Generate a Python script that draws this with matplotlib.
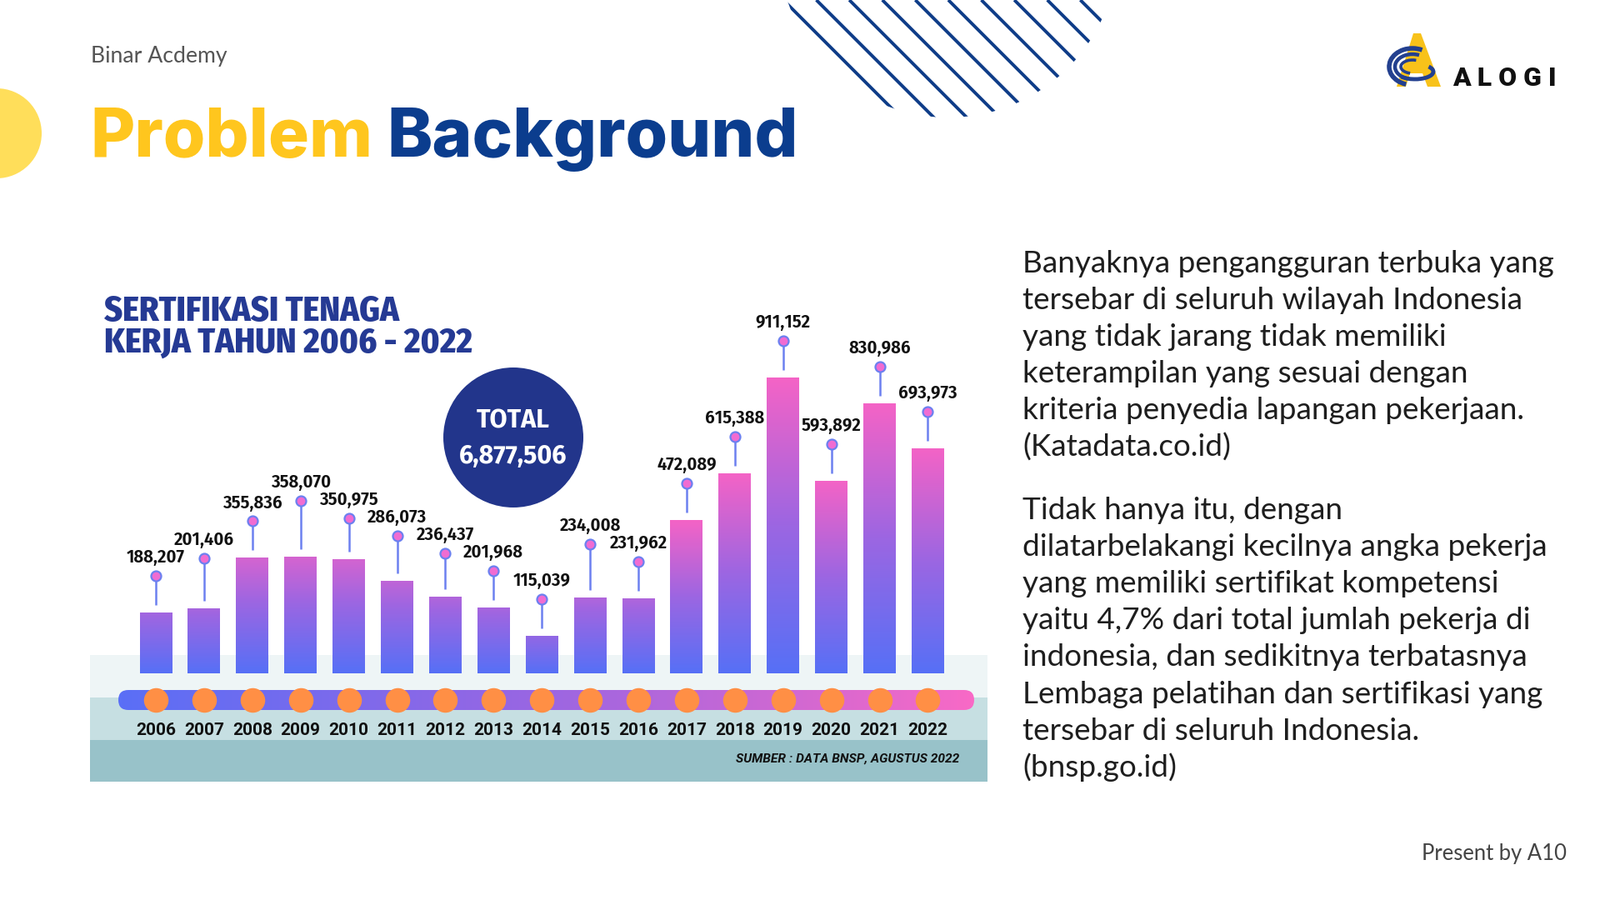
import numpy as np
import matplotlib
matplotlib.use("Agg")
import matplotlib.pyplot as plt
from matplotlib import font_manager as fm
from matplotlib.colors import LinearSegmentedColormap
from matplotlib.patches import Circle, Rectangle, FancyBboxPatch, Polygon, Arc
import matplotlib.transforms as mtransforms

# ---------------- data ----------------
years = ["2006", "2007", "2008", "2009", "2010", "2011", "2012", "2013", "2014",
         "2015", "2016", "2017", "2018", "2019", "2020", "2021", "2022"]
certifications = [188207, 201406, 355836, 358070, 350975, 286073, 236437, 201968,
                  115039, 234008, 231962, 472089, 615388, 911152, 593892, 830986, 693973]
total_text = "6,877,506"
chart_title = ["SERTIFIKASI TENAGA", "KERJA TAHUN 2006 - 2022"]
source_text = "SUMBER : DATA BNSP, AGUSTUS 2022"
para1 = ["Banyaknya pengangguran terbuka yang",
         "tersebar di seluruh wilayah Indonesia",
         "yang tidak jarang tidak memiliki",
         "keterampilan yang sesuai dengan",
         "kriteria penyedia lapangan pekerjaan.",
         "(Katadata.co.id)"]
para2 = ["Tidak hanya itu, dengan",
         "dilatarbelakangi kecilnya angka pekerja",
         "yang memiliki sertifikat kompetensi",
         "yaitu 4,7% dari total jumlah pekerja di",
         "indonesia, dan sedikitnya terbatasnya",
         "Lembaga pelatihan dan sertifikasi yang",
         "tersebar di seluruh Indonesia.",
         "(bnsp.go.id)"]


def pick(*names):
    for n in names:
        try:
            fm.findfont(fm.FontProperties(family=n), fallback_to_default=False)
            return n
        except Exception:
            pass
    return "DejaVu Sans"


BODY = pick("Lato", "Inter", "Noto Sans")
HEAVY = pick("Inter", "Lato", "Roboto")
COND = pick("Fira Sans Condensed", "Barlow Semi Condensed", "Roboto", "DejaVu Sans")
FIRA = pick("Fira Sans", "Roboto", "DejaVu Sans")
ROBOTO = pick("Roboto", "Liberation Sans", "DejaVu Sans")

W, H = 1920, 1080
fig = plt.figure(figsize=(19.2, 10.8), dpi=100)
fig.patch.set_facecolor("white")
bg = fig.add_axes([0, 0, 1, 1], zorder=0)
bg.axis("off")
renderer = fig.canvas.get_renderer()


def fit(t, width):
    bb = t.get_window_extent(renderer)
    t.set_fontsize(t.get_fontsize() * width / bb.width)
    return t


def set_bg_limits():
    bg.set_xlim(0, W)
    bg.set_ylim(H, 0)


set_bg_limits()

# ---------------- header decorations ----------------
bg.add_patch(Circle((-4, 160), 54, color="#FFDE5A", lw=0))
clip_circ = Circle((1138, -62), 203, transform=bg.transData)
for x0 in np.arange(940, 1345, 39.6):
    t = np.array([0, 320])
    ln, = bg.plot(x0 + t, t, color="#0E3C88", lw=2.8, solid_capstyle="butt")
    ln.set_clip_path(clip_circ)

bg.text(109, 75, "Binar Acdemy", fontsize=17, family=BODY, color="#555555",
        ha="left", va="baseline")
fit(bg.texts[-1], 163)

t1 = bg.text(108, 188, "Problem Background", fontsize=60, family=HEAVY,
             weight=800, color="#FFC61E", ha="left", va="baseline")
fit(t1, 850)
fs_title = t1.get_fontsize()
t1.set_text("Problem")
bg.text(958, 188, "Background", fontsize=fs_title, family=HEAVY, weight=800,
        color="#0B3D8E", ha="right", va="baseline")

# logo
bg.add_patch(Polygon([(1696, 40), (1705, 40), (1729, 104), (1713, 104), (1707, 88),
                      (1692, 88), (1687, 104), (1676, 104)], closed=True,
                     color="#F8C21A", lw=0))
for r, lw in [(24, 4.0), (17, 3.2), (10, 2.6)]:
    bg.add_patch(Arc((1695, 80), 2 * r + 8, 2 * r - 4, theta1=110, theta2=300,
                     color="#23408F", lw=lw))
bg.add_patch(Arc((1698, 86), 44, 18, theta1=-20, theta2=160, color="#23408F", lw=3.5))
tl = bg.text(1743, 103, "A L O G I", fontsize=26, family=ROBOTO, weight="black",
             color="#111111", ha="left", va="baseline")
fit(tl, 124)

# ---------------- chart panel ----------------
PL, PR = 108, 1185
bg.add_patch(Rectangle((PL, 786), PR - PL, 52, color="#EEF5F6", lw=0))
bg.add_patch(Rectangle((PL, 837), PR - PL, 52, color="#C6DFE2", lw=0))
bg.add_patch(Rectangle((PL, 888), PR - PL, 50, color="#98C2C9", lw=0))

# timeline gradient bar
tl_cmap = LinearSegmentedColormap.from_list("tl", ["#5A6FF6", "#9B66E2", "#F86AC6"])
tl_img = bg.imshow(np.linspace(0, 1, 256).reshape(1, -1), cmap=tl_cmap,
                   extent=[142, 1169, 852, 828], aspect="auto", zorder=1)
tl_clip = FancyBboxPatch((142, 828), 1027, 24,
                         boxstyle="round,pad=0,rounding_size=12",
                         transform=bg.transData)
tl_img.set_clip_path(tl_clip)

# chart title
ct1 = bg.text(125, 385, chart_title[0], fontsize=22, family=COND, weight=800,
              color="#253A94", ha="left", va="baseline")
ct2 = bg.text(125, 423, chart_title[1], fontsize=22, family=COND, weight=800,
              color="#253A94", ha="left", va="baseline")
fit(ct2, 442)
ct1.set_fontsize(ct2.get_fontsize())

# total circle
bg.add_patch(Circle((616, 525), 84, color="#22358B", lw=0, zorder=1))
tt = bg.text(616, 514, "TOTAL", fontsize=20, family=FIRA, weight="bold",
             color="white", ha="center", va="baseline", zorder=2)
tv = bg.text(616, 556, total_text, fontsize=20, family=FIRA, weight="bold",
             color="white", ha="center", va="baseline", zorder=2)
fit(tv, 130)
tt.set_fontsize(tv.get_fontsize())

src = bg.text(1151, 915, source_text, fontsize=10, family=ROBOTO, weight="bold",
              style="italic", color="#111111", ha="right", va="baseline")
fit(src, 267)

# ---------------- bar chart axes ----------------
BASE_Y, TOP_REF, AX_TOP = 808, 453, 280
X0, DX = 187, 57.9
ax = fig.add_axes([PL / W, (H - BASE_Y) / H, (PR - PL) / W, (BASE_Y - AX_TOP) / H],
                  zorder=2)
ax.patch.set_alpha(0)
ax.axis("off")
vals = np.array(certifications, dtype=float)
ytop = vals.max() * (BASE_Y - AX_TOP) / (BASE_Y - TOP_REF)
xlim = ((PL - X0) / DX, (PR - X0) / DX)
ppu = (BASE_Y - AX_TOP) / ytop
xs = np.arange(len(years))

bars = ax.bar(xs, vals, width=39 / DX, color="none", lw=0, zorder=3)
bar_cmap = LinearSegmentedColormap.from_list("bar", ["#5670F6", "#9C66E2", "#F463C6"])
for b, v in zip(bars, vals):
    t_top = min(1.0, 0.25 + 0.75 * v / 470000)
    grad = np.linspace(0, t_top, 256).reshape(-1, 1)
    im = ax.imshow(grad, extent=[b.get_x(), b.get_x() + b.get_width(), 0, v],
                   origin="lower", aspect="auto", cmap=bar_cmap, vmin=0, vmax=1,
                   zorder=3)
    im.set_clip_path(b)

# label layout (pixels above baseline), staggered to avoid overlaps
SEP = 21
h_px = vals * ppu
lab = h_px + 66
for _ in range(200):
    changed = False
    for i in range(len(lab) - 1):
        if abs(lab[i] - lab[i + 1]) < SEP - 0.01:
            hi, lo = (i, i + 1) if lab[i] >= lab[i + 1] else (i + 1, i)
            lab[hi] = lab[lo] + SEP
            changed = True
    if not changed:
        break
mark = lab - 22
ax.vlines(xs, (h_px + 9) / ppu, mark / ppu, color="#6C80F0", lw=1.8, zorder=4)
ax.scatter(xs, mark / ppu, s=(12 * 0.72) ** 2, facecolor="#F06CD2",
           edgecolor="#6C80F0", linewidths=1.6, zorder=5)
probe = bg.text(0, 0, "911,152", fontsize=15, family=COND, weight=600)
fit(probe, 66)
fs_lab = probe.get_fontsize()
probe.remove()
for x, v, ly in zip(xs, certifications, lab):
    ax.text(x, ly / ppu, f"{v:,}", ha="center", va="center", fontsize=fs_lab,
            family=COND, weight=600, color="#111111", zorder=6)

# timeline circles and year labels (x in data, y in pixels)
trans = mtransforms.blended_transform_factory(ax.transData, bg.transData)
ax.scatter(xs, np.full(len(xs), 840), transform=trans, s=(29.5 * 0.72) ** 2,
           color="#FF8F45", lw=0, zorder=6, clip_on=False)
for x, yr in zip(xs, years):
    ax.text(x, 876, yr, transform=trans, ha="center", va="center", fontsize=15,
            family=ROBOTO, weight="bold", color="#111111", clip_on=False)

ax.set_xlim(*xlim)
ax.set_ylim(0, ytop)

# ---------------- body text ----------------
first = bg.text(1227, 327, para1[0], fontsize=22, family=BODY, color="#1E1E1E",
                ha="left", va="baseline")
fit(first, 634)
fs_body = first.get_fontsize()
for k, line in enumerate(para1[1:], start=1):
    bg.text(1227, 327 + 44.1 * k, line, fontsize=fs_body, family=BODY,
            color="#1E1E1E", ha="left", va="baseline")
for k, line in enumerate(para2):
    bg.text(1227, 623 + 44.1 * k, line, fontsize=fs_body, family=BODY,
            color="#1E1E1E", ha="left", va="baseline")

pb = bg.text(1880, 1032, "Present by A10", fontsize=17, family=BODY,
             color="#444444", ha="right", va="baseline")
fit(pb, 174)

set_bg_limits()
fig.savefig("out.png", dpi=100, facecolor="white")
